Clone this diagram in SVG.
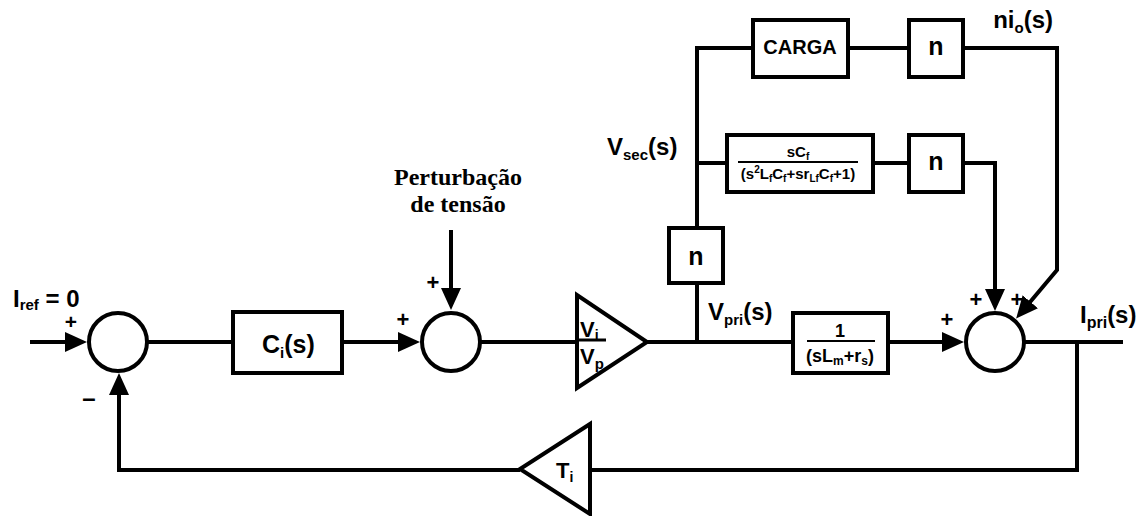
<svg xmlns="http://www.w3.org/2000/svg" width="1144" height="516" viewBox="0 0 1144 516">
<style>
.ln{fill:none;stroke:#000;stroke-width:4;stroke-linejoin:miter}
.bx{fill:#fff;stroke:#000;stroke-width:4}
.t{font-family:"Liberation Sans",Arial,sans-serif;font-weight:bold;fill:#000}
.s{font-family:"Liberation Serif","Times New Roman",serif;font-weight:bold;fill:#000;font-size:24px}
</style>
<defs>
<marker id="ah" viewBox="0 0 22 20" markerWidth="22" markerHeight="20" refX="16" refY="10" orient="auto" markerUnits="userSpaceOnUse">
<path d="M0,0 L22,10 L0,20 z" fill="#000"/>
</marker>
</defs>
<rect width="1144" height="516" fill="#fff"/>
<g id="connectors">
<path class="ln" d="M30,342 H81" marker-end="url(#ah)"/>
<path class="ln" d="M147,342 H233"/>
<path class="ln" d="M342,342 H414" marker-end="url(#ah)"/>
<path class="ln" d="M451,230 V304" marker-end="url(#ah)"/>
<path class="ln" d="M480,342 H577"/>
<path class="ln" d="M647,342 H793"/>
<path class="ln" d="M697,342 V283"/>
<path class="ln" d="M697,228 V48 H753"/>
<path class="ln" d="M848,48 H909"/>
<path class="ln" d="M963,48 H1057 V270 L1020,314" marker-end="url(#ah)"/>
<path class="ln" d="M697,163 H727"/>
<path class="ln" d="M873,163 H909"/>
<path class="ln" d="M963,163 H995 V305" marker-end="url(#ah)"/>
<path class="ln" d="M888,342 H958" marker-end="url(#ah)"/>
<path class="ln" d="M1024,342 H1123"/>
<path class="ln" d="M1077,342 V470 H590"/>
<path class="ln" d="M520,470 H119 V379" marker-end="url(#ah)"/>
</g>
<g id="sum1">
<circle class="bx" cx="118" cy="342" r="29"/>
<text class="t" x="71" y="329" font-size="21" text-anchor="middle">+</text>
<text class="t" x="89" y="406" font-size="24" text-anchor="middle">–</text>
</g>
<g id="iref">
<text class="t" x="13" y="307" font-size="24">I<tspan font-size="15" dy="3">ref</tspan><tspan dy="-3"> = 0</tspan></text>
</g>
<g id="ci">
<rect class="bx" x="233" y="312" width="109" height="61"/>
<text class="t" x="262" y="353" font-size="25">C<tspan font-size="15" dy="5">i</tspan><tspan dy="-5">(s)</tspan></text>
</g>
<g id="perturbacao">
<text class="s" x="458" y="185" text-anchor="middle">Perturbação</text>
<text class="s" x="458" y="212" text-anchor="middle">de tensão</text>
</g>
<g id="sum2">
<circle class="bx" cx="451" cy="342" r="29"/>
<text class="t" x="403" y="327" font-size="22" text-anchor="middle">+</text>
<text class="t" x="433" y="290" font-size="22" text-anchor="middle">+</text>
</g>
<g id="gain-vivp">
<polygon class="bx" points="577,295 577,388 647,342"/>
<text class="t" x="580" y="337" font-size="22">V<tspan font-size="14" dy="3">i</tspan></text>
<line x1="579" y1="340" x2="606" y2="340" stroke="#000" stroke-width="3"/>
<text class="t" x="580" y="364" font-size="22">V<tspan font-size="15" dy="5">p</tspan></text>
</g>
<g id="n-pri">
<rect class="bx" x="669" y="228" width="54" height="55"/>
<text class="t" x="696" y="265" font-size="25" text-anchor="middle">n</text>
</g>
<g id="vsec">
<text class="t" x="607" y="155" font-size="24">V<tspan font-size="15" dy="5">sec</tspan><tspan dy="-5">(s)</tspan></text>
</g>
<g id="vpri">
<text class="t" x="708" y="320" font-size="24">V<tspan font-size="15" dy="5">pri</tspan><tspan dy="-5">(s)</tspan></text>
</g>
<g id="carga">
<rect class="bx" x="753" y="20" width="95" height="57"/>
<text class="t" x="800" y="54" font-size="20" text-anchor="middle">CARGA</text>
</g>
<g id="n-carga">
<rect class="bx" x="909" y="20" width="54" height="57"/>
<text class="t" x="936" y="55" font-size="25" text-anchor="middle">n</text>
</g>
<g id="nio">
<text class="t" x="1053" y="28" font-size="24" text-anchor="end">ni<tspan font-size="15" dy="5">o</tspan><tspan dy="-5">(s)</tspan></text>
</g>
<g id="filtro">
<rect class="bx" x="727" y="135" width="146" height="57"/>
<text class="t" x="798" y="157" font-size="15" text-anchor="middle">sC<tspan font-size="10" dy="3">f</tspan></text>
<line x1="738" y1="162" x2="858" y2="162" stroke="#000" stroke-width="2"/>
<text class="t" x="798" y="179" font-size="15" text-anchor="middle">(s<tspan font-size="10" dy="-6">2</tspan><tspan dy="6">L</tspan><tspan font-size="10" dy="3">f</tspan><tspan dy="-3">C</tspan><tspan font-size="10" dy="3">f</tspan><tspan dy="-3">+sr</tspan><tspan font-size="10" dy="3">Lf</tspan><tspan dy="-3">C</tspan><tspan font-size="10" dy="3">f</tspan><tspan dy="-3">+1)</tspan></text>
</g>
<g id="n-filtro">
<rect class="bx" x="909" y="135" width="54" height="57"/>
<text class="t" x="936" y="170" font-size="25" text-anchor="middle">n</text>
</g>
<g id="planta">
<rect class="bx" x="793" y="313" width="95" height="60"/>
<text class="t" x="840" y="337" font-size="18" text-anchor="middle">1</text>
<line x1="807" y1="341" x2="875" y2="341" stroke="#000" stroke-width="2"/>
<text class="t" x="840" y="362" font-size="18" text-anchor="middle">(sL<tspan font-size="12" dy="3">m</tspan><tspan dy="-3">+r</tspan><tspan font-size="12" dy="3">s</tspan><tspan dy="-3">)</tspan></text>
</g>
<g id="sum3">
<circle class="bx" cx="995" cy="342" r="29"/>
<text class="t" x="947" y="327" font-size="22" text-anchor="middle">+</text>
<text class="t" x="976" y="307" font-size="22" text-anchor="middle">+</text>
<text class="t" x="1017" y="307" font-size="22" text-anchor="middle">+</text>
</g>
<g id="ipri">
<text class="t" x="1080" y="323" font-size="24">I<tspan font-size="16" dy="5">pri</tspan><tspan dy="-5">(s)</tspan></text>
</g>
<g id="gain-ti">
<polygon class="bx" points="590,424 590,514 520,469"/>
<text class="t" x="556" y="478" font-size="22">T<tspan font-size="14" dy="4">i</tspan></text>
</g>
</svg>
